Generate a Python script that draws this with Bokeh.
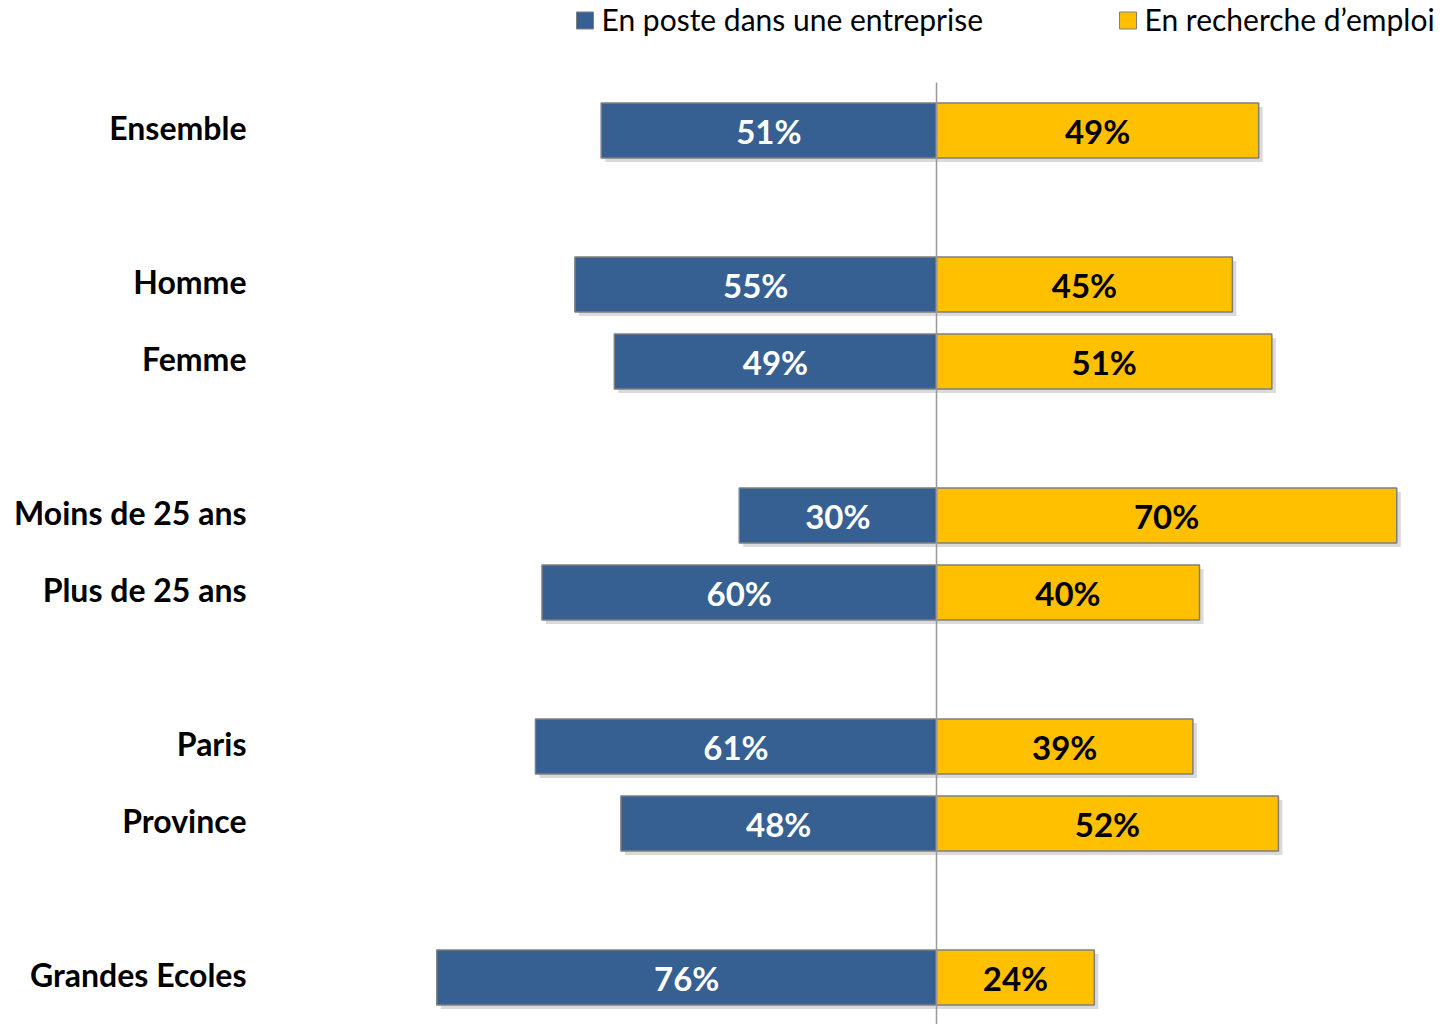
from bokeh.plotting import figure
from bokeh.models import Range1d, ColumnDataSource
from bokeh.core.properties import value
from bokeh.embed import file_html
from bokeh.resources import INLINE

# ---- data ----
categories = ["Ensemble", "Homme", "Femme", "Moins de 25 ans", "Plus de 25 ans",
              "Paris", "Province", "Grandes Ecoles"]
row_pos = [0, 2, 3, 5, 6, 8, 9, 11]
en_poste = [51, 55, 49, 30, 60, 61, 48, 76]
en_recherche = [49, 45, 51, 70, 40, 39, 52, 24]
series_names = ["En poste dans une entreprise", "En recherche d\u2019emploi"]

BLUE = "#366092"
YELLOW = "#FFC000"
EDGE = "#7F7F7F"
FONT = "Lato"

W, H = 1445, 1024
CX = 936.0          # canvas x of the zero line
PXU = 6.575         # px per percent
Y0 = 130.0          # canvas y of first row
PYU = 77.0          # px per row unit

x0 = -CX / PXU
x1 = (W - CX) / PXU
y_top = -Y0 / PYU
y_bot = (H - Y0) / PYU

def px2x(px):
    return (px - CX) / PXU

def py2y(py):
    return (py - Y0) / PYU

p = figure(width=W, height=H, x_range=Range1d(x0, x1), y_range=Range1d(y_bot, y_top),
           output_backend="svg", toolbar_location=None, min_border=0,
           outline_line_color=None)
p.axis.visible = False
p.grid.visible = False
p.background_fill_color = "white"

bh = 55.0 / PYU
neg = [-v for v in en_poste]
src = ColumnDataSource(dict(y=row_pos, left=neg, right=en_recherche,
                            zero=[0] * len(row_pos), cat=categories,
                            lab_l=[f"{v}%" for v in en_poste],
                            lab_r=[f"{v}%" for v in en_recherche],
                            mid_l=[-v / 2 for v in en_poste],
                            mid_r=[v / 2 for v in en_recherche],
                            ys=[r + 4 / PYU for r in row_pos],
                            lefts=[-v + 4 / PXU for v in en_poste],
                            rights=[v + 4 / PXU for v in en_recherche]))

# shadows
p.hbar(y="ys", left="lefts", right="rights", height=bh, source=src,
       fill_color="#BBBBBB", fill_alpha=0.55, line_color=None)

p.hbar(y="y", left="left", right="zero", height=bh, source=src,
       fill_color=BLUE, line_color=EDGE, line_width=1.5)
p.hbar(y="y", left="zero", right="right", height=bh, source=src,
       fill_color=YELLOW, line_color=EDGE, line_width=1.5)

# zero line
p.segment(x0=[0], y0=[py2y(82)], x1=[0], y1=[y_bot], line_color="#999999", line_width=1.5)

p.text(x="mid_l", y="y", text="lab_l", source=src, text_align="center",
       text_baseline="middle", text_color="white", text_font=value(FONT),
       text_font_style="bold", text_font_size="33px", y_offset=0)
p.text(x="mid_r", y="y", text="lab_r", source=src, text_align="center",
       text_baseline="middle", text_color="black", text_font=value(FONT),
       text_font_style="bold", text_font_size="33px", y_offset=0)

# category labels
p.text(x=[px2x(246)] * len(row_pos), y=row_pos, text=categories,
       text_align="right", text_baseline="middle", text_color="black",
       text_font=value(FONT), text_font_style="bold", text_font_size="32px", y_offset=-3)

# legend
sq = 17
lx = [576, 1119]
p.rect(x=[px2x(v + sq / 2) for v in lx], y=[py2y(20)] * 2, width=sq / PXU, height=sq / PYU,
       fill_color=[BLUE, YELLOW], line_color=EDGE, line_width=1)
p.text(x=[px2x(v + 25) for v in lx], y=[py2y(18)] * 2, text=series_names,
       text_align="left", text_baseline="middle", text_color="black",
       text_font=value(FONT), text_font_size="30px")

open("out.html", "w").write(file_html(p, INLINE))
